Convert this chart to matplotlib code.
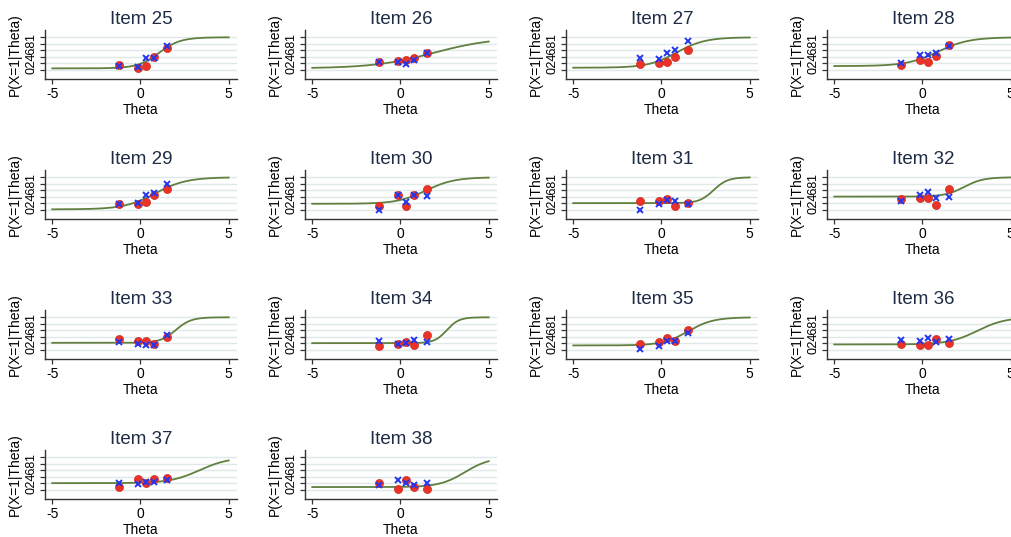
import numpy as np
import matplotlib
matplotlib.use("Agg")
import matplotlib.pyplot as plt

# item numbers shown in the panels
items = [25, 26, 27, 28, 29, 30, 31, 32, 33, 34, 35, 36, 37, 38]

# theta of the five score groups (same for every item)
theta_groups = [-1.22, -0.13, 0.29, 0.74, 1.51]

# red dots (observed proportion per group)
red_vals = [
    [0.14, 0.07, 0.13, 0.41, 0.68],  # 25
    [0.23, 0.29, 0.30, 0.38, 0.51],  # 26
    [0.17, 0.20, 0.26, 0.39, 0.61],  # 27
    [0.15, 0.31, 0.23, 0.43, 0.77],  # 28
    [0.19, 0.19, 0.24, 0.46, 0.63],  # 29
    [0.13, 0.47, 0.12, 0.45, 0.63],  # 30
    [0.27, 0.27, 0.33, 0.11, 0.21],  # 31
    [0.33, 0.36, 0.37, 0.15, 0.63],  # 32
    [0.33, 0.28, 0.28, 0.19, 0.41],  # 33
    [0.12, 0.17, 0.24, 0.14, 0.46],  # 34
    [0.19, 0.23, 0.37, 0.27, 0.61],  # 35
    [0.18, 0.15, 0.16, 0.33, 0.21],  # 36
    [0.10, 0.33, 0.21, 0.34, 0.38],  # 37
    [0.21, 0.04, 0.32, 0.09, 0.03],  # 38
]

# blue crosses (second group)
blue_vals = [
    [0.13, 0.09, 0.36, 0.37, 0.73],  # 25
    [0.24, 0.24, 0.18, 0.32, 0.51],  # 26
    [0.37, 0.35, 0.52, 0.60, 0.90],  # 27
    [0.20, 0.46, 0.46, 0.53, 0.73],  # 28
    [0.18, 0.22, 0.45, 0.51, 0.80],  # 29
    [0.00, 0.45, 0.23, 0.46, 0.44],  # 30
    [0.00, 0.18, 0.32, 0.27, 0.17],  # 31
    [0.28, 0.45, 0.56, 0.38, 0.41],  # 32
    [0.23, 0.19, 0.16, 0.14, 0.46],  # 33
    [0.28, 0.18, 0.22, 0.30, 0.26],  # 34
    [0.03, 0.13, 0.28, 0.28, 0.51],  # 35
    [0.31, 0.27, 0.37, 0.26, 0.34],  # 36
    [0.21, 0.19, 0.24, 0.24, 0.30],  # 37
    [0.15, 0.30, 0.20, 0.16, 0.22],  # 38
]

# item parameters of the fitted curve (discrimination, difficulty, guessing)
param_a = [1.65, 0.59, 1.24, 1.13, 1.14, 1.24, 2.5, 1.85, 2.3, 2.9, 1.4, 1.25, 1.2, 1.4]
param_b = [1.05, 1.88, 0.86, 0.87, 0.84, 1.44, 2.95, 2.36, 2.0, 2.62, 1.5, 3.1, 3.35, 3.65]
param_c = [0.05, 0.05, 0.07, 0.12, 0.02, 0.19, 0.21, 0.41, 0.22, 0.21, 0.14, 0.17, 0.21, 0.09]

x_ticks = [-5, 0, 5]
y_ticks = [0, 0.2, 0.4, 0.6, 0.8, 1]
y_ticklabels = ["0", ".2", ".4", ".6", ".8", "1"]

plt.rcParams["font.family"] = ["Liberation Sans", "DejaVu Sans"]

W, H = 1011, 537
fig = plt.figure(figsize=(W / 100, H / 100), dpi=100)
fig.patch.set_facecolor("white")

# panel geometry in pixels
col_left = [45, 305, 566, 827]
row_bottom = [79, 219, 359, 499]
ax_w, ax_h = 192, 49

line_col = "#61803f"
red_col = "#ea3326"
blue_col = "#2436ee"
grid_col = "#dfe9ea"
axis_col = "#333333"

grid_theta = np.linspace(-5, 5, 300)

for i, item in enumerate(items):
    r, c = divmod(i, 4)
    ax = fig.add_axes([col_left[c] / W, (H - row_bottom[r]) / H, ax_w / W, ax_h / H])

    # fitted item characteristic curve
    a, b, g = param_a[i], param_b[i], param_c[i]
    p = g + (1 - g) / (1 + np.exp(-a * (grid_theta - b)))
    ax.plot(grid_theta, p, color=line_col, lw=1.3, zorder=2)

    ax.plot(theta_groups, red_vals[i], "o", color=red_col, ms=5.8,
            mec="#d02a20", mew=0.5, zorder=3)
    ax.plot(theta_groups, blue_vals[i], "x", color=blue_col, ms=5,
            mew=1.4, zorder=4)

    ax.set_xlim(-5.41, 5.47)
    ax.set_ylim(-0.275, 1.223)
    ax.set_xticks(x_ticks)
    ax.set_xticklabels([str(t) for t in x_ticks], fontsize=10)
    ax.set_yticks(y_ticks)
    ax.set_yticklabels(y_ticklabels, fontsize=9, rotation=90, va="center")
    ax.grid(axis="y", color=grid_col, lw=1.0)
    ax.set_axisbelow(True)

    for s in ("top", "right"):
        ax.spines[s].set_visible(False)
    for s in ("left", "bottom"):
        ax.spines[s].set_color(axis_col)
        ax.spines[s].set_linewidth(1.0)
    ax.tick_params(colors=axis_col, length=3.5, width=0.9, pad=2)
    ax.tick_params(labelcolor="black")

    ax.set_title("Item %d" % item, fontsize=13.5, color="#1e2b45", pad=4)
    ax.set_xlabel("Theta", fontsize=10, labelpad=1.5)
    ax.set_ylabel("P(X=1|Theta)", fontsize=10, labelpad=2.5)

fig.savefig("out.png", dpi=100, facecolor="white")
